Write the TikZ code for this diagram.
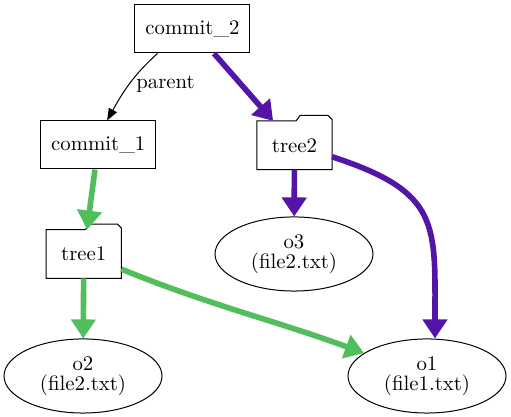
\documentclass[tikz,border=0pt]{standalone}
\usepackage{xcolor}
\usetikzlibrary{positioning, arrows.meta, shapes.geometric, calc}

\definecolor{treepurple}{RGB}{83,20,168}
\definecolor{treegreen}{RGB}{80,190,90}

\begin{document}
\begin{tikzpicture}[x=0.5pt, y=0.5pt,
    font=\fontsize{10.4}{10}\selectfont,
    commitbox/.style={draw, line width=0.5pt, minimum width=57.5pt, minimum height=24pt},
    folderbox/.style={minimum width=37.2pt, minimum height=24pt},
    blob/.style={draw, ellipse, line width=0.5pt, minimum width=79pt, minimum height=36.5pt, align=center},
    parentedge/.style={line width=0.5pt, -{Triangle[length=6pt, width=4.5pt]}},
    purpleedge/.style={line width=2.8pt, treepurple, -{Triangle[length=9.5pt, width=12pt]}},
    greenedge/.style={line width=2.8pt, treegreen, -{Triangle[length=9.5pt, width=12pt]}}]
  \useasboundingbox (0,0) rectangle (511,417);

  % commits
  \node[commitbox] (commit2) at (192.5,388) {commit\_2};
  \node[commitbox] (commit1) at (98.2,272) {commit\_1};

  % trees
  \node[folderbox] (tree2) at (294.5,271.7) {tree2};
  \node[folderbox] (tree1) at (83.8,163) {tree1};
  \foreach \t in {tree1, tree2}
    \draw[line width=0.5pt] (\t.south west) -- (\t.north west) -- ($(\t.north east)+(-36,0)$)
      -- ++(4,5.5) -- ++(28,0) -- ++(4,-4) -- (\t.south east) -- cycle;

  % blobs
  \node[blob] (o3) at (294,163) {o3\\(file2.txt)};
  \node[blob] (o2) at (83,41) {o2\\(file2.txt)};
  \node[blob] (o1) at (427,41) {o1\\(file1.txt)};

  \draw[parentedge] (commit2.-145) to[out=-138, in=61] node[midway, right] {parent} (commit1.70);

  \draw[purpleedge] (commit2) -- (tree2);
  \draw[purpleedge] (tree2) -- (o3);
  \draw[purpleedge] (tree2.-17) to[out=-18, in=90, looseness=1.4] ([xshift=4pt]o1.north);

  \draw[greenedge] (commit1) -- (tree1);
  \draw[greenedge] (tree1) -- (o2);
  \draw[greenedge] (tree1) to[out=-22, in=160] (o1);
\end{tikzpicture}
\end{document}
